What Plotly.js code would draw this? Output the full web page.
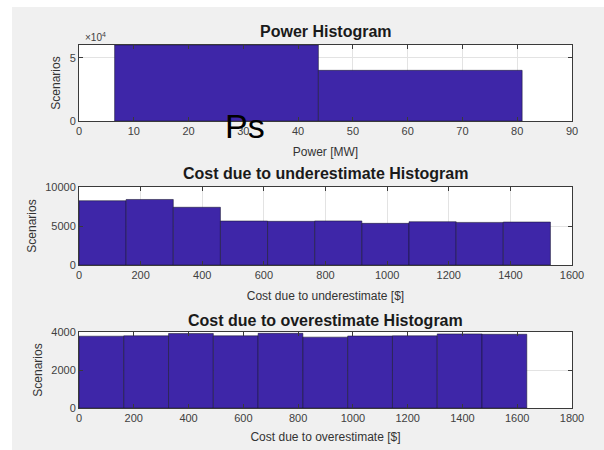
<!DOCTYPE html>
<html>
<head>
<meta charset="utf-8">
<script src="https://cdn.plot.ly/plotly-3.0.1.min.js"></script>
<style>html,body{margin:0;padding:0;background:#fff;}#chart{width:604px;height:450px;}</style>
</head>
<body>
<div id="chart"></div>
<script>
// ---- Data ----
const powerEdges = [6.5, 43.7, 80.9];
const powerCounts = [60000, 40000];

const underEdges = [0, 153, 306, 459, 612, 765, 918, 1071, 1224, 1377, 1530];
const underCounts = [8240, 8400, 7400, 5640, 5600, 5650, 5340, 5550, 5460, 5510];

const overEdges = [0, 163.5, 327, 490.5, 654, 817.5, 981, 1144.5, 1308, 1471.5, 1635];
const overCounts = [3780, 3800, 3920, 3800, 3930, 3730, 3790, 3800, 3900, 3880];

const titles = ['Power Histogram', 'Cost due to underestimate Histogram', 'Cost due to overestimate Histogram'];
const xTitles = ['Power [MW]', 'Cost due to underestimate [$]', 'Cost due to overestimate [$]'];
const yTitle = 'Scenarios';
const powerYTickVals = [0, 50000];
const powerYTickText = ['0', '5'];
const underYTickVals = [0, 5000, 10000];
const underYTickText = ['0', '5000', '10000'];
const overYTickVals = [0, 2000, 4000];
const overYTickText = ['0', '2000', '4000'];

// ---- Helpers ----
function centers(e){ const c=[]; for(let i=0;i<e.length-1;i++) c.push((e[i]+e[i+1])/2); return c; }
function widths(e){ const w=[]; for(let i=0;i<e.length-1;i++) w.push(e[i+1]-e[i]); return w; }

const barColor = '#3e26a8';
const edgeLine = {color:'rgba(20,20,40,0.75)', width:0.7};
const FONT = 'Liberation Sans, Arial, Helvetica, sans-serif';

function bar(edges, counts, xa, ya){
  return {type:'bar', x:centers(edges), y:counts, width:widths(edges),
    xaxis:xa, yaxis:ya, marker:{color:barColor, line:edgeLine}, hoverinfo:'x+y', showlegend:false};
}

const data = [
  bar(powerEdges, powerCounts, 'x', 'y'),
  bar(underEdges, underCounts, 'x2', 'y2'),
  bar(overEdges, overCounts, 'x3', 'y3')
];

const W = 604, H = 450;
const xl = 79, xr = 572;
const xdom = [xl/W, xr/W];
function ydom(top, bottom){ return [(H-bottom)/H, (H-top)/H]; }

const axCommon = {
  showline:true, linecolor:'#3a3a3a', linewidth:1, mirror:'ticks',
  ticks:'inside', ticklen:4, tickcolor:'#3a3a3a', tickwidth:1,
  showgrid:true, gridcolor:'#e3e3e3', gridwidth:1, zeroline:false,
  tickfont:{family:FONT, size:11, color:'#404040'}
};
function xax(range, dtick, title, anchor, standoff){
  return Object.assign({}, axCommon, {domain:xdom, range:range, dtick:dtick, tick0:0, anchor:anchor,
    title:{text:title, font:{family:FONT, size:12, color:'#333'}, standoff:standoff}});
}
function yax(range, tv, tt, dom, anchor){
  return Object.assign({}, axCommon, {domain:dom, range:range, tickvals:tv, ticktext:tt, anchor:anchor,
    title:{text:yTitle, font:{family:FONT, size:12, color:'#333'}, standoff:6}});
}

const layout = {
  width:W, height:H,
  margin:{l:0, r:0, t:0, b:0, pad:0},
  paper_bgcolor:'#f0f0f0', plot_bgcolor:'#ffffff',
  bargap:0,
  showlegend:false,
  xaxis: xax([0,90], 10, xTitles[0], 'y', 11),
  yaxis: yax([0,60000], powerYTickVals, powerYTickText, ydom(45,121), 'x'),
  xaxis2: xax([0,1600], 200, xTitles[1], 'y2', 11),
  yaxis2: yax([0,10000], underYTickVals, underYTickText, ydom(187,265), 'x2'),
  xaxis3: xax([0,1800], 200, xTitles[2], 'y3', 9),
  yaxis3: yax([0,4000], overYTickVals, overYTickText, ydom(332,408), 'x3'),
  shapes:[
    {type:'rect', xref:'paper', yref:'paper', x0:0, x1:12/W, y0:0, y1:1, fillcolor:'#ffffff', line:{width:0}},
    {type:'rect', xref:'paper', yref:'paper', x0:0, x1:1, y0:(H-7)/H, y1:1, fillcolor:'#ffffff', line:{width:0}}
  ],
  annotations:[
    {text:'<b>'+titles[0]+'</b>', xref:'paper', yref:'paper', x:(xl+xr)/2/W, y:(H-31)/H, showarrow:false,
      xanchor:'center', yanchor:'middle', font:{family:FONT, size:16, color:'#1a1a1a'}},
    {text:'<b>'+titles[1]+'</b>', xref:'paper', yref:'paper', x:(xl+xr)/2/W, y:(H-173)/H, showarrow:false,
      xanchor:'center', yanchor:'middle', font:{family:FONT, size:16, color:'#1a1a1a'}},
    {text:'<b>'+titles[2]+'</b>', xref:'paper', yref:'paper', x:(xl+xr)/2/W, y:(H-320)/H, showarrow:false,
      xanchor:'center', yanchor:'middle', font:{family:FONT, size:16, color:'#1a1a1a'}},
    {text:'×10<sup>4</sup>', xref:'paper', yref:'paper', x:83/W, y:(H-37)/H, showarrow:false,
      xanchor:'left', yanchor:'middle', font:{family:FONT, size:10, color:'#404040'}},
    {text:'Ps', xref:'paper', yref:'paper', x:245/W, y:(H-126)/H, showarrow:false,
      xanchor:'center', yanchor:'middle', font:{family:FONT, size:34, color:'#000000'}}
  ]
};

Plotly.newPlot('chart', data, layout, {displayModeBar:false, staticPlot:true});
</script>
</body>
</html>
